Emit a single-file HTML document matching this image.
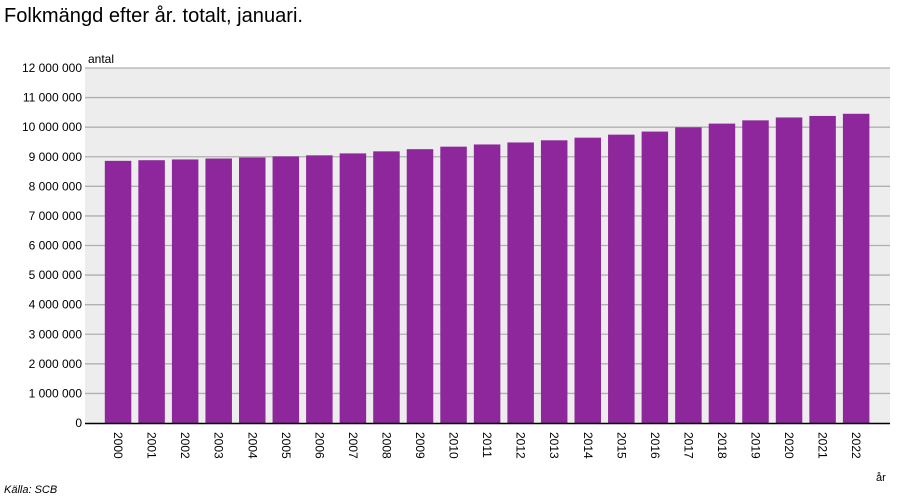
<!DOCTYPE html>
<html><head><meta charset="utf-8"><style>
body{margin:0;background:#fff;}
svg{display:block;font-family:"Liberation Sans",Arial,sans-serif;}
</style></head><body>
<svg width="900" height="500" xmlns="http://www.w3.org/2000/svg">
<text x="4" y="22" font-size="20" fill="#000" textLength="299" lengthAdjust="spacingAndGlyphs">Folkmängd efter år. totalt, januari.</text>
<rect x="85" y="68" width="805" height="355" fill="#ededed"/>
<g stroke="#b0b0b0" stroke-width="1.3" id="grid"></g>
<g id="ylab" font-size="12" fill="#000" text-anchor="end"></g>
<text x="88" y="63" font-size="12">antal</text>
<g id="bars" fill="#8e279b"></g>
<line x1="85" y1="423.5" x2="890" y2="423.5" stroke="#000" stroke-width="1.5"/>
<g id="xlab" font-size="12" fill="#000"></g>
<text x="876" y="481" font-size="11">år</text>
<text x="4" y="493" font-size="11" font-style="italic">Källa: SCB</text>
<script>
var ns="http://www.w3.org/2000/svg";
function el(t,a,p,txt){var e=document.createElementNS(ns,t);for(var k in a)e.setAttribute(k,a[k]);if(txt!=null)e.textContent=txt;document.getElementById(p).appendChild(e);}
var y0=423,h=355/12;
for(var i=0;i<=12;i++){var y=y0-i*h;
 if(i>0)el('line',{x1:85,x2:890,y1:y,y2:y},'grid');
 var s=i==0?'0':(i*1000000).toString().replace(/\B(?=(\d{3})+(?!\d))/g,' ');
 el('text',{x:82,y:y+4},'ylab',s);}
var v=[8861426,8882792,8909128,8940788,8975670,9011392,9047752,9113257,9182927,9256347,9340682,9415570,9482855,9555893,9644864,9747355,9851017,9995153,10120242,10230185,10327589,10379295,10452326];
for(var j=0;j<23;j++){var x=104.8+j*33.55,bh=v[j]/1e6*h;
 el('rect',{x:x,y:y0-bh,width:26.5,height:bh},'bars');
 var cx=x+13.25-4;
 el('text',{x:0,y:0,transform:'translate('+cx+',432) rotate(90)'},'xlab',String(2000+j));}
</script>
</svg>
</body></html>
